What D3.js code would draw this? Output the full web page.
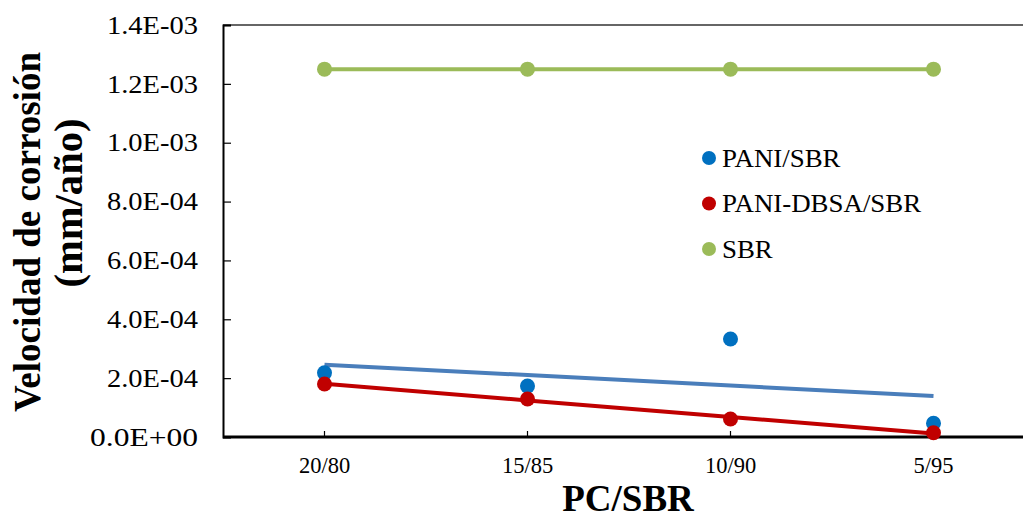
<!DOCTYPE html>
<html><head><meta charset="utf-8">
<script src="https://cdn.jsdelivr.net/npm/d3@7"></script>
<style>body{margin:0;background:#fff}svg{display:block}
svg text{font-family:"Liberation Serif","Times New Roman","DejaVu Serif",serif !important}</style>
</head><body>
<svg id="c" width="1023" height="516"></svg>
<script>
const categories = ["20/80", "15/85", "10/90", "5/95"];
const paniSBR = [2.18e-4, 1.73e-4, 3.33e-4, 0.465e-4];
const paniDBSA = [1.80e-4, 1.29e-4, 0.61e-4, 0.146e-4];
const sbr = [1.25e-3, 1.25e-3, 1.25e-3, 1.25e-3];
const yTicks = [0, 2e-4, 4e-4, 6e-4, 8e-4, 1.0e-3, 1.2e-3, 1.4e-3];
const yTickLabels = ["0.0E+00","2.0E-04","4.0E-04","6.0E-04","8.0E-04","1.0E-03","1.2E-03","1.4E-03"];
const seriesNames = ["PANI/SBR", "PANI-DBSA/SBR", "SBR"];

const series = [
  {name: seriesNames[0], values: paniSBR, dot: "#0070C0", line: "#4A7EBB"},
  {name: seriesNames[1], values: paniDBSA, dot: "#C00000", line: "#C00000"},
  {name: seriesNames[2], values: sbr, dot: "#9BBB59", line: "#9BBB59"}
];

const svg = d3.select("#c");
const pLeft = 223, pTop = 25, pBottom = 437, bandW = 203;
const x = d3.scaleBand().domain(categories).range([pLeft, pLeft + bandW * categories.length]);
const xc = c => x(c) + x.bandwidth() / 2;
const y = d3.scaleLinear().domain([0, 1.4e-3]).range([pBottom, pTop]);

// top border
svg.append("line").attr("x1", pLeft).attr("x2", 1023).attr("y1", pTop).attr("y2", pTop)
  .attr("stroke", "#333").attr("stroke-width", 1.5);

// y axis
const ya = svg.append("g").attr("transform", `translate(${pLeft},0)`)
  .call(d3.axisLeft(y).tickValues(yTicks).tickSize(-8).tickPadding(0)
    .tickFormat((d, i) => yTickLabels[i]));
ya.select(".domain").attr("stroke", "#000").attr("stroke-width", 2);
ya.selectAll(".tick line").attr("stroke", "#000").attr("stroke-width", 1.2);
ya.selectAll(".tick text").attr("x", -25).attr("dy", "0.33em")
  .attr("font-size", 25)
  .attr("fill", "#000").attr("text-anchor", "end")
  .attr("textLength", function(){ return this.textContent.includes("+") ? 108 : 91; })
  .attr("lengthAdjust", "spacingAndGlyphs");

// x axis
const xa = svg.append("g").attr("transform", `translate(0,${pBottom})`)
  .call(d3.axisBottom(x).tickSize(-6).tickPadding(0));
xa.select(".domain").attr("d", `M${pLeft},0H1023`).attr("stroke", "#000").attr("stroke-width", 3);
xa.selectAll(".tick line").attr("stroke", "#000").attr("stroke-width", 1.2);
xa.selectAll(".tick text").attr("y", 36).attr("dy", 0)
  .attr("font-size", 22.5).attr("fill", "#000");

// linear trendlines (least squares over category index)
function trend(vals) {
  const xs = vals.map((_, i) => i + 1);
  const mx = d3.mean(xs), my = d3.mean(vals);
  const sxy = d3.sum(xs, (xi, i) => (xi - mx) * (vals[i] - my));
  const sxx = d3.sum(xs, xi => (xi - mx) ** 2);
  const b = sxy / sxx, a = my - b * mx;
  return xs.map(xi => a + b * xi);
}
const line = d3.line().x(d => xc(d.c)).y(d => y(d.v));
series.forEach(s => {
  const t = trend(s.values);
  svg.append("path").datum(categories.map((c, i) => ({c, v: t[i]})))
    .attr("d", line).attr("fill", "none").attr("stroke", s.line).attr("stroke-width", 4);
});

series.forEach(s => {
  svg.append("g").selectAll("circle").data(categories.map((c, i) => ({c, v: s.values[i]})))
    .join("circle").attr("cx", d => xc(d.c)).attr("cy", d => y(d.v)).attr("r", 7.5).attr("fill", s.dot);
});

// legend
const lg = svg.append("g");
series.forEach((s, i) => {
  const ly = 158 + i * 45.5;
  lg.append("circle").attr("cx", 709).attr("cy", ly).attr("r", 7).attr("fill", s.dot);
  const t = lg.append("text").attr("x", 722).attr("y", ly + 8.5).text(s.name)
    .attr("font-size", 25).attr("fill", "#000");
  const w = t.node().getComputedTextLength();
  t.attr("textLength", w * 1.075).attr("lengthAdjust", "spacingAndGlyphs");
});

// axis titles
svg.append("text").attr("x", 628).attr("y", 511).attr("text-anchor", "middle")
  .attr("font-weight", "bold")
  .attr("font-size", 37).text("PC/SBR");
svg.append("text").attr("transform", "translate(40,232) rotate(-90)")
  .attr("text-anchor", "middle").attr("font-weight", "bold").attr("font-size", 37)
  .attr("textLength", 360).attr("lengthAdjust", "spacingAndGlyphs")
  .text("Velocidad de corrosión");
svg.append("text").attr("transform", "translate(82,203) rotate(-90)")
  .attr("text-anchor", "middle").attr("font-weight", "bold").attr("font-size", 39)
  .attr("textLength", 169).attr("lengthAdjust", "spacingAndGlyphs")
  .text("(mm/año)");
</script>
</body></html>
